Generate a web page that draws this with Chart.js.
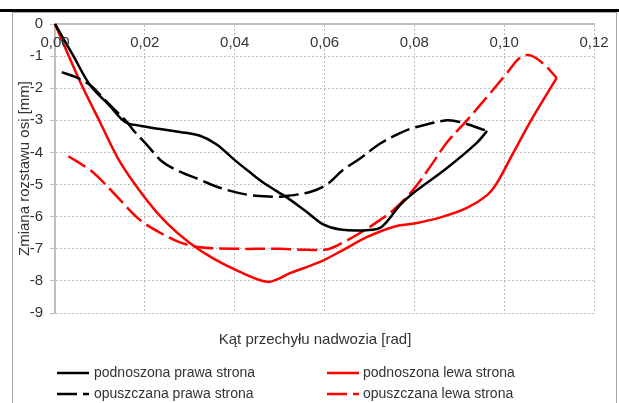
<!DOCTYPE html>
<html>
<head>
<meta charset="utf-8">
<script src="https://cdn.jsdelivr.net/npm/chart.js@4.4.0/dist/chart.umd.min.js"></script>
<style>
  html, body { margin: 0; padding: 0; background: #fff; }
  #wrap { width: 619px; height: 403px; }
</style>
</head>
<body>
<div id="wrap"><canvas id="c" width="619" height="403"></canvas></div>
<script>
// Axis ticks and titles
const xTickValues = [0, 0.02, 0.04, 0.06, 0.08, 0.10, 0.12];
const xTickLabels = ['0,00', '0,02', '0,04', '0,06', '0,08', '0,10', '0,12'];
const yTickLabels = ['0', '-1', '-2', '-3', '-4', '-5', '-6', '-7', '-8', '-9'];
const xTitle = 'Kąt przechyłu nadwozia [rad]';
const yTitle = 'Zmiana rozstawu osi [mm]';

const seriesNames = [
  'podnoszona prawa strona',
  'opuszczana prawa strona',
  'podnoszona lewa strona',
  'opuszczana lewa strona'
];

// podnoszona prawa strona
const raisedRightX = [0, 0.004, 0.0078, 0.0122, 0.0156, 0.0189, 0.0234, 0.0278, 0.0323, 0.036, 0.0397, 0.0434, 0.047, 0.0516, 0.056, 0.0597, 0.0635, 0.0694, 0.0727, 0.0768, 0.0797, 0.0872, 0.0939, 0.0962];
const raisedRightY = [0, -0.97, -1.9, -2.55, -3.05, -3.17, -3.27, -3.36, -3.48, -3.75, -4.2, -4.62, -5.0, -5.4, -5.85, -6.24, -6.4, -6.42, -6.32, -5.64, -5.27, -4.49, -3.7, -3.33];

// opuszczana prawa strona
const loweredRightX = [0.0015, 0.0045, 0.0078, 0.01, 0.0122, 0.016, 0.0174, 0.0205, 0.024, 0.0278, 0.0323, 0.0367, 0.0434, 0.0486, 0.0508, 0.0568, 0.0605, 0.0641, 0.068, 0.0724, 0.0768, 0.0797, 0.0872, 0.0901, 0.0962];
const loweredRightY = [-1.5, -1.65, -1.9, -2.2, -2.52, -3.05, -3.3, -3.77, -4.3, -4.6, -4.85, -5.1, -5.33, -5.38, -5.37, -5.23, -5.0, -4.55, -4.18, -3.72, -3.4, -3.24, -3.0, -3.05, -3.33];

// podnoszona lewa strona
const raisedLeftX = [0, 0.0056, 0.01, 0.0145, 0.0204, 0.0249, 0.03, 0.0352, 0.0412, 0.0472, 0.05, 0.0523, 0.059, 0.0641, 0.0694, 0.0753, 0.0806, 0.0864, 0.0917, 0.0962, 0.0984, 0.102, 0.1064, 0.1117];
const raisedLeftY = [0, -1.8, -3.05, -4.3, -5.48, -6.2, -6.82, -7.3, -7.72, -8.03, -7.92, -7.76, -7.41, -7.04, -6.64, -6.32, -6.2, -6.0, -5.73, -5.33, -4.95, -4.02, -2.9, -1.68];

// opuszczana lewa strona
const loweredLeftX = [0.003, 0.0078, 0.0107, 0.0145, 0.0189, 0.0234, 0.0278, 0.0323, 0.04, 0.05, 0.0561, 0.0605, 0.0635, 0.068, 0.0724, 0.0753, 0.0797, 0.0835, 0.0872, 0.0917, 0.0962, 0.1006, 0.1035, 0.1057, 0.1086, 0.1117];
const loweredLeftY = [-4.12, -4.55, -4.92, -5.48, -6.1, -6.5, -6.8, -6.95, -7.0, -7.0, -7.03, -7.02, -6.85, -6.5, -6.1, -5.8, -5.17, -4.45, -3.7, -3.0, -2.27, -1.53, -1.05, -0.97, -1.22, -1.68];

const toPoints = (xs, ys) => xs.map((x, i) => ({ x: x, y: ys[i] }));

const FONT = '"Liberation Sans", Arial, sans-serif';
const TEXT = '#333333';
const DASH = [20, 6];

function lineSet(label, xs, ys, color, dashed) {
  return {
    label: label,
    data: toPoints(xs, ys),
    showLine: true,
    borderColor: color,
    backgroundColor: color,
    borderWidth: 2.5,
    borderDash: dashed ? DASH : [],
    borderCapStyle: 'butt',
    pointRadius: 0,
    pointHoverRadius: 0,
    tension: 0.35,
    fill: false,
    clip: false
  };
}

// Frame, top rule, axis titles, top tick labels and the two-column legend
const decor = {
  id: 'decor',
  beforeDraw(chart) {
    const ctx = chart.ctx;
    ctx.save();
    ctx.fillStyle = '#ffffff';
    ctx.fillRect(0, 0, chart.width, chart.height);
    ctx.strokeStyle = '#a6a6a6';
    ctx.lineWidth = 1;
    ctx.strokeRect(12.5, 12.5, 604, 400);
    ctx.fillStyle = '#000000';
    ctx.fillRect(0, 9, chart.width, 3);
    ctx.restore();
  },
  afterDraw(chart) {
    const ctx = chart.ctx;
    const xs = chart.scales.x;
    const area = chart.chartArea;
    ctx.save();
    ctx.fillStyle = TEXT;
    ctx.font = '15px ' + FONT;
    ctx.textAlign = 'center';
    ctx.textBaseline = 'middle';
    xTickValues.forEach((v, i) => {
      ctx.fillText(xTickLabels[i], xs.getPixelForValue(v), 43);
    });
    ctx.fillText(xTitle, 315, 340);

    ctx.save();
    ctx.translate(25, (area.top + area.bottom) / 2);
    ctx.rotate(-Math.PI / 2);
    ctx.fillText(yTitle, 0, 0);
    ctx.restore();

    // legend
    const colLine = [57, 327];
    const colText = [94, 363];
    const rowY = [373, 394];
    ctx.font = '14px ' + FONT;
    ctx.textAlign = 'left';
    chart.data.datasets.forEach((ds, i) => {
      const col = Math.floor(i / 2);
      const row = i % 2;
      const y = rowY[row];
      ctx.save();
      ctx.strokeStyle = ds.borderColor;
      ctx.lineWidth = 2.5;
      ctx.lineCap = 'butt';
      ctx.setLineDash(ds.borderDash || []);
      ctx.beginPath();
      ctx.moveTo(colLine[col], y);
      ctx.lineTo(colLine[col] + 32, y);
      ctx.stroke();
      ctx.restore();
      ctx.fillStyle = TEXT;
      ctx.fillText(ds.label, colText[col], y);
    });
    ctx.restore();
  }
};

new Chart(document.getElementById('c'), {
  type: 'scatter',
  data: {
    datasets: [
      lineSet(seriesNames[0], raisedRightX, raisedRightY, '#000000', false),
      lineSet(seriesNames[1], loweredRightX, loweredRightY, '#000000', true),
      lineSet(seriesNames[2], raisedLeftX, raisedLeftY, '#ff0000', false),
      lineSet(seriesNames[3], loweredLeftX, loweredLeftY, '#ff0000', true)
    ]
  },
  options: {
    responsive: false,
    animation: false,
    events: [],
    layout: { padding: { left: 0, top: 0, right: 25, bottom: 90 } },
    plugins: {
      legend: { display: false },
      tooltip: { enabled: false },
      title: { display: false }
    },
    scales: {
      x: {
        type: 'linear',
        position: 'top',
        min: 0,
        max: 0.12,
        afterFit(scale) { scale.height = 24; },
        ticks: { display: false, stepSize: 0.02 },
        grid: { color: '#bfbfbf', lineWidth: 1, drawTicks: false },
        border: { display: true, color: '#bfbfbf', width: 2, dash: [2, 2] }
      },
      y: {
        type: 'linear',
        min: -9,
        max: 0,
        afterFit(scale) { scale.width = 55; },
        ticks: {
          stepSize: 1,
          padding: 7,
          color: TEXT,
          font: { family: FONT, size: 15 },
          callback: (v) => yTickLabels[-Math.round(v)]
        },
        grid: {
          color: '#bfbfbf',
          lineWidth: 1,
          drawTicks: true,
          tickLength: 5,
          tickColor: '#bfbfbf',
          tickBorderDash: []
        },
        border: { display: true, color: '#bfbfbf', width: 2, dash: [2, 2] }
      }
    }
  },
  plugins: [decor]
});
</script>
</body>
</html>
